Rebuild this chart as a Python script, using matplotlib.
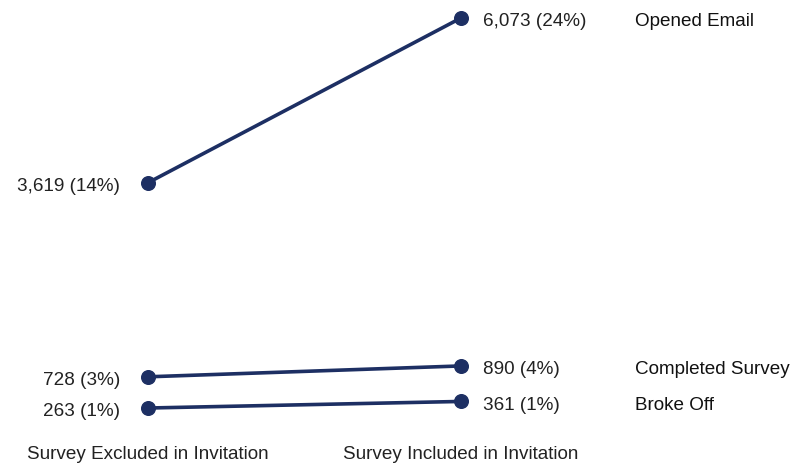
import matplotlib.pyplot as plt

# Données
groupes = ['Survey Excluded in Invitation', 'Survey Included in Invitation']
series = ['Opened Email', 'Completed Survey', 'Broke Off']
exclus = [3619, 728, 263]
inclus = [6073, 890, 361]
pct_exclus = [14, 3, 1]
pct_inclus = [24, 4, 1]

couleur = '#1d2f63'
plt.rcParams['font.family'] = ['Liberation Sans', 'DejaVu Sans']
taille = 13.6

fig = plt.figure(figsize=(7.97, 4.63), dpi=100)
ax = fig.add_axes([0, 0, 1, 1])

x = [0, 1]
for i, nom in enumerate(series):
    ax.plot(x, [exclus[i], inclus[i]], color=couleur, lw=2.6,
            marker='o', ms=9.8, solid_capstyle='round', zorder=3)
    ax.annotate(f'{exclus[i]:,} ({pct_exclus[i]}%)', (0, exclus[i]),
                xytext=(-20, -1.2), textcoords='offset points',
                ha='right', va='center_baseline', fontsize=taille, color='#222222')
    ax.annotate(f'{inclus[i]:,} ({pct_inclus[i]}%)', (1, inclus[i]),
                xytext=(16, -1.2), textcoords='offset points',
                ha='left', va='center_baseline', fontsize=taille, color='#222222')
    ax.annotate(nom, (1, inclus[i]), xytext=(125, -1.2), textcoords='offset points',
                ha='left', va='center_baseline', fontsize=taille, color='#111111')

# Libellés des groupes
for xi, g in zip(x, groupes):
    ax.text(xi, -400, g, ha='center', va='center_baseline', fontsize=taille, color='#222222')

ax.set_xlim(-0.4728, 2.0735)
ax.set_ylim(-556, 6341)
ax.axis('off')

fig.savefig('out.png', dpi=100)
